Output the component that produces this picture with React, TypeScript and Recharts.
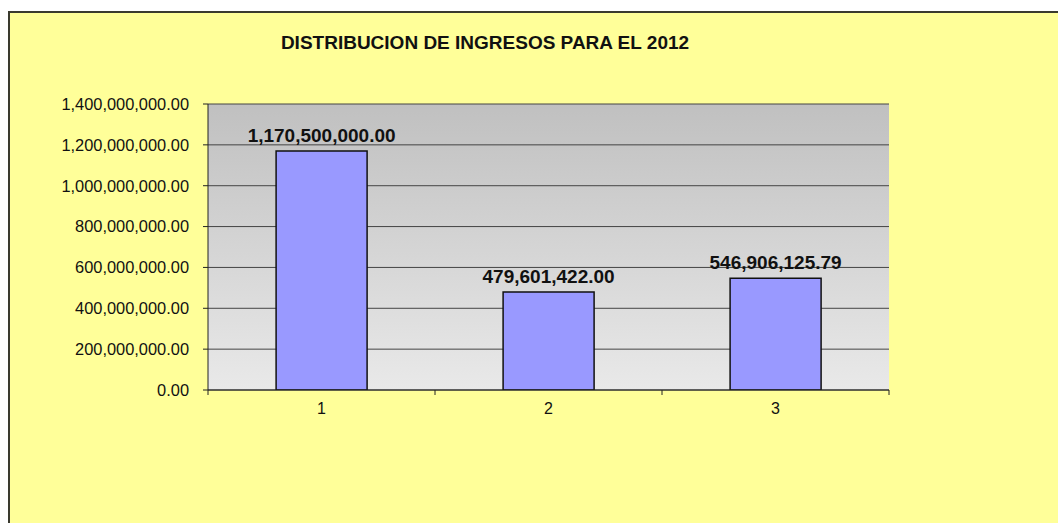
import { BarChart, Bar, XAxis, YAxis, CartesianGrid, LabelList } from 'recharts'

const categories = ['1', '2', '3']
const ingresos = [1170500000, 479601422, 546906125.79]
const yTicks = [0, 200000000, 400000000, 600000000, 800000000, 1000000000, 1200000000, 1400000000]

const data = categories.map((c, i) => ({ name: c, value: ingresos[i] }))

const fmt = (v: number) =>
  v.toLocaleString('en-US', { minimumFractionDigits: 2, maximumFractionDigits: 2 })

const FONT = '"Liberation Sans", Arial, sans-serif'
const CHART_W = 1048
const CHART_H = 510
const MARGIN = { top: 91, right: 169, bottom: 103, left: 0 }
const Y_W = 198
const PLOT_W = CHART_W - MARGIN.right - MARGIN.left - Y_W

// x tick: label at the category centre, tick marks at the category edges (Excel style)
function XTick(props: any) {
  const { x, y, payload, index } = props
  const half = PLOT_W / categories.length / 2
  return (
    <g>
      <line x1={x - half} x2={x - half} y1={y - 8} y2={y - 3} stroke="#222" />
      {index === categories.length - 1 && (
        <line x1={x + half} x2={x + half} y1={y - 8} y2={y - 3} stroke="#222" />
      )}
      <text x={x} y={y + 16} textAnchor="middle" fontSize={16} fontFamily={FONT} fill="#111">
        {payload.value}
      </text>
    </g>
  )
}

export default function App() {
  return (
    <div
      style={{
        position: 'absolute',
        left: 8,
        top: 11,
        width: 1050,
        height: 512,
        background: '#FFFF99',
        borderLeft: '2px solid #3a3a2e',
        borderTop: '2px solid #3a3a2e',
        boxSizing: 'border-box',
        overflow: 'hidden',
      }}
    >
      <div
        style={{
          position: 'absolute',
          left: 0,
          width: 950,
          top: 19,
          textAlign: 'center',
          fontFamily: FONT,
          fontWeight: 700,
          fontSize: 19,
          color: '#111',
        }}
      >
        DISTRIBUCION DE INGRESOS PARA EL 2012
      </div>
      <BarChart width={CHART_W} height={CHART_H} data={data} margin={MARGIN} barCategoryGap="30%">
        <defs>
          <linearGradient id="plotBg" x1="0" y1="0" x2="0" y2="1">
            <stop offset="0%" stopColor="#c0c0c0" />
            <stop offset="100%" stopColor="#e9e9e9" />
          </linearGradient>
        </defs>
        <CartesianGrid
          vertical={false}
          stroke="#444"
          strokeWidth={1}
          fill="url(#plotBg)"
          fillOpacity={1}
        />
        <XAxis
          dataKey="name"
          height={30}
          axisLine={{ stroke: '#222' }}
          tickLine={false}
          tick={<XTick />}
          interval={0}
        />
        <YAxis
          width={Y_W}
          domain={[0, 1400000000]}
          ticks={yTicks}
          tickFormatter={fmt}
          axisLine={{ stroke: '#222' }}
          tickLine={{ stroke: '#222' }}
          tickSize={5}
          tickMargin={14}
          tick={{ fontSize: 16.4, fontFamily: FONT, fill: '#111' }}
          allowDataOverflow
        />
        <Bar dataKey="value" fill="#9999FF" stroke="#111" strokeWidth={1.5} isAnimationActive={false}>
          <LabelList
            dataKey="value"
            position="top"
            offset={9}
            formatter={(v: any) => fmt(Number(v))}
            style={{ fontSize: 19, fontWeight: 700, fontFamily: FONT, fill: '#111' }}
          />
        </Bar>
      </BarChart>
    </div>
  )
}
